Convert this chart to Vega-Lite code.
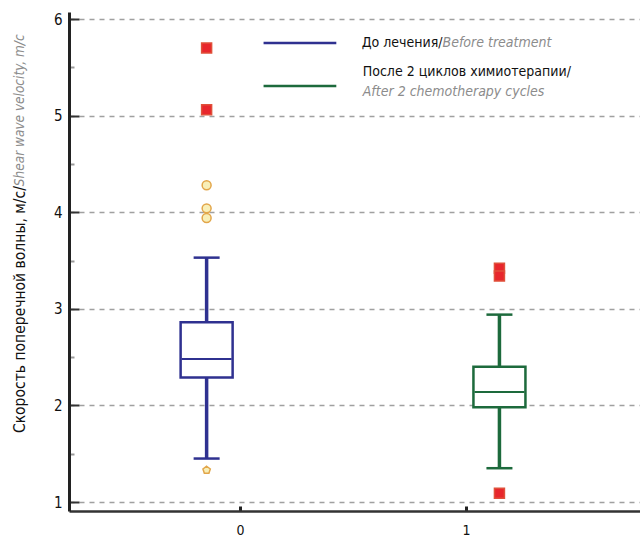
{
  "$schema": "https://vega.github.io/schema/vega-lite/v6.json",
  "width": 571,
  "height": 499,
  "autosize": {"type": "none"},
  "padding": {"left": 69, "top": 12, "right": 0, "bottom": 33},
  "background": "white",
  "config": {
    "view": {"stroke": null},
    "font": "Liberation Sans Narrow, DejaVu Sans Condensed, sans-serif"
  },
  "datasets": {
    "boxes": [
      {"group": "До лечения", "pos": -0.148, "lower": 1.45, "q1": 2.29, "median": 2.48, "q3": 2.86, "upper": 3.53},
      {"group": "После 2 циклов химиотерапии", "pos": 1.148, "lower": 1.35, "q1": 1.98, "median": 2.14, "q3": 2.40, "upper": 2.94}
    ],
    "outliers": [
      {"group": "До лечения", "pos": -0.148, "value": 5.70, "kind": "far"},
      {"group": "До лечения", "pos": -0.148, "value": 5.06, "kind": "far"},
      {"group": "До лечения", "pos": -0.148, "value": 4.28, "kind": "near"},
      {"group": "До лечения", "pos": -0.148, "value": 4.04, "kind": "near"},
      {"group": "До лечения", "pos": -0.148, "value": 3.94, "kind": "near"},
      {"group": "До лечения", "pos": -0.148, "value": 1.33, "kind": "star"},
      {"group": "После 2 циклов химиотерапии", "pos": 1.148, "value": 3.42, "kind": "far"},
      {"group": "После 2 циклов химиотерапии", "pos": 1.148, "value": 3.34, "kind": "far"},
      {"group": "После 2 циклов химиотерапии", "pos": 1.148, "value": 1.09, "kind": "far"}
    ],
    "one": [{}]
  },
  "layer": [
    {
      "data": {"name": "boxes"},
      "mark": {"type": "rule", "strokeWidth": 3.5, "opacity": 1},
      "encoding": {
        "x": {
          "field": "pos", "type": "quantitative",
          "scale": {"domain": [-0.735, 1.748], "nice": false, "zero": false},
          "axis": {
            "values": [0, 1], "title": null, "grid": false,
            "domainColor": "#333", "domainWidth": 2.5,
            "tickSize": -5, "tickWidth": 3, "tickColor": "#222",
            "labelFontSize": 14, "labelColor": "#111", "labelPadding": 17,
            "labelExpr": "format(datum.value, 'd')"
          }
        },
        "y": {
          "field": "lower", "type": "quantitative",
          "scale": {"domain": [0.907, 6.073], "nice": false, "zero": false},
          "axis": {
            "values": [1, 1.5, 2, 2.5, 3, 3.5, 4, 4.5, 5, 5.5, 6],
            "title": null,
            "labelExpr": "datum.value % 1 === 0 ? format(datum.value, 'd') : ''",
            "grid": true, "gridColor": "#a0a0a0", "gridDash": [5, 5], "gridWidth": 1.5,
            "gridOpacity": {"condition": {"test": "datum.value % 1 === 0", "value": 1}, "value": 0},
            "domainColor": "#222", "domainWidth": 3,
            "tickColor": {"condition": {"test": "datum.value % 1 === 0", "value": "#333"}, "value": "#999"},
            "tickSize": {"condition": {"test": "datum.value % 1 === 0", "value": -10}, "value": -5},
            "tickWidth": 2,
            "labelFontSize": 15, "labelColor": "#111", "labelPadding": 17
          }
        },
        "y2": {"field": "upper"},
        "color": {
          "field": "group", "type": "nominal",
          "scale": {"domain": ["До лечения", "После 2 циклов химиотерапии"], "range": ["#2f3190", "#1d6a3c"]},
          "legend": null
        }
      }
    },
    {
      "data": {"name": "boxes"},
      "mark": {"type": "bar", "width": 52, "fill": "white", "strokeWidth": 2.5, "opacity": 1},
      "encoding": {
        "x": {"field": "pos", "type": "quantitative"},
        "y": {"field": "q1", "type": "quantitative"},
        "y2": {"field": "q3"},
        "stroke": {
          "field": "group", "type": "nominal",
          "scale": {"domain": ["До лечения", "После 2 циклов химиотерапии"], "range": ["#2f3190", "#1d6a3c"]},
          "legend": null
        }
      }
    },
    {
      "data": {"name": "boxes"},
      "mark": {"type": "tick", "orient": "horizontal", "size": 50, "thickness": 2, "opacity": 1},
      "encoding": {
        "x": {"field": "pos", "type": "quantitative"},
        "y": {"field": "median", "type": "quantitative"},
        "color": {"field": "group", "type": "nominal", "legend": null}
      }
    },
    {
      "data": {"name": "boxes"},
      "mark": {"type": "tick", "orient": "horizontal", "size": 26, "thickness": 2.5, "opacity": 1},
      "encoding": {
        "x": {"field": "pos", "type": "quantitative"},
        "y": {"field": "upper", "type": "quantitative"},
        "color": {"field": "group", "type": "nominal", "legend": null}
      }
    },
    {
      "data": {"name": "boxes"},
      "mark": {"type": "tick", "orient": "horizontal", "size": 26, "thickness": 2.5, "opacity": 1},
      "encoding": {
        "x": {"field": "pos", "type": "quantitative"},
        "y": {"field": "lower", "type": "quantitative"},
        "color": {"field": "group", "type": "nominal", "legend": null}
      }
    },
    {
      "data": {"name": "outliers"},
      "mark": {"type": "point", "filled": false, "strokeWidth": 1.5, "opacity": 1},
      "encoding": {
        "x": {"field": "pos", "type": "quantitative"},
        "y": {"field": "value", "type": "quantitative"},
        "shape": {
          "field": "kind", "type": "nominal",
          "scale": {"domain": ["far", "near", "star"], "range": ["square", "circle", "M0,-1L0.95,-0.31L0.59,0.81L-0.59,0.81L-0.95,-0.31Z"]},
          "legend": null
        },
        "fill": {"condition": {"test": "datum.kind === 'far'", "value": "#e8262c"}, "value": "#f8efb8"},
        "stroke": {"condition": {"test": "datum.kind === 'far'", "value": "#e0503a"}, "value": "#e2a64a"},
        "size": {
          "field": "kind", "type": "nominal",
          "scale": {"domain": ["far", "near", "star"], "range": [100, 60, 85]},
          "legend": null
        }
      }
    },
    {
      "data": {"name": "one"},
      "mark": {"type": "rule", "color": "#2f3190", "strokeWidth": 2.5},
      "encoding": {"x": {"datum": 0.104}, "x2": {"datum": 0.426}, "y": {"datum": 5.752}}
    },
    {
      "data": {"name": "one"},
      "mark": {"type": "rule", "color": "#1d6a3c", "strokeWidth": 2.5},
      "encoding": {"x": {"datum": 0.104}, "x2": {"datum": 0.426}, "y": {"datum": 5.306}}
    },
    {
      "data": {"name": "one"},
      "mark": {"type": "text", "align": "right", "baseline": "middle", "fontSize": 14, "color": "#111"},
      "encoding": {"x": {"datum": 0.896}, "y": {"datum": 5.75}, "text": {"value": "До лечения/"}}
    },
    {
      "data": {"name": "one"},
      "mark": {"type": "text", "align": "left", "baseline": "middle", "fontSize": 14, "fontStyle": "italic", "color": "#8c8c8c"},
      "encoding": {"x": {"datum": 0.896}, "y": {"datum": 5.75}, "text": {"value": "Before treatment"}}
    },
    {
      "data": {"name": "one"},
      "mark": {"type": "text", "align": "left", "baseline": "middle", "fontSize": 14, "color": "#111"},
      "encoding": {"x": {"datum": 0.543}, "y": {"datum": 5.45}, "text": {"value": "После 2 циклов химиотерапии/"}}
    },
    {
      "data": {"name": "one"},
      "mark": {"type": "text", "align": "left", "baseline": "middle", "fontSize": 14, "fontStyle": "italic", "color": "#8c8c8c"},
      "encoding": {"x": {"datum": 0.543}, "y": {"datum": 5.244}, "text": {"value": "After 2 chemotherapy cycles"}}
    },
    {
      "data": {"name": "one"},
      "mark": {"type": "text", "angle": 270, "align": "right", "baseline": "middle", "fontSize": 15.5, "color": "#111"},
      "encoding": {"x": {"datum": -0.974}, "y": {"datum": 4.27}, "text": {"value": "Скорость поперечной волны, м/с/"}}
    },
    {
      "data": {"name": "one"},
      "mark": {"type": "text", "angle": 270, "align": "left", "baseline": "middle", "fontSize": 13.5, "fontStyle": "italic", "color": "#8c8c8c"},
      "encoding": {"x": {"datum": -0.974}, "y": {"datum": 4.27}, "text": {"value": "Shear wave velocity, m/c"}}
    }
  ]
}
